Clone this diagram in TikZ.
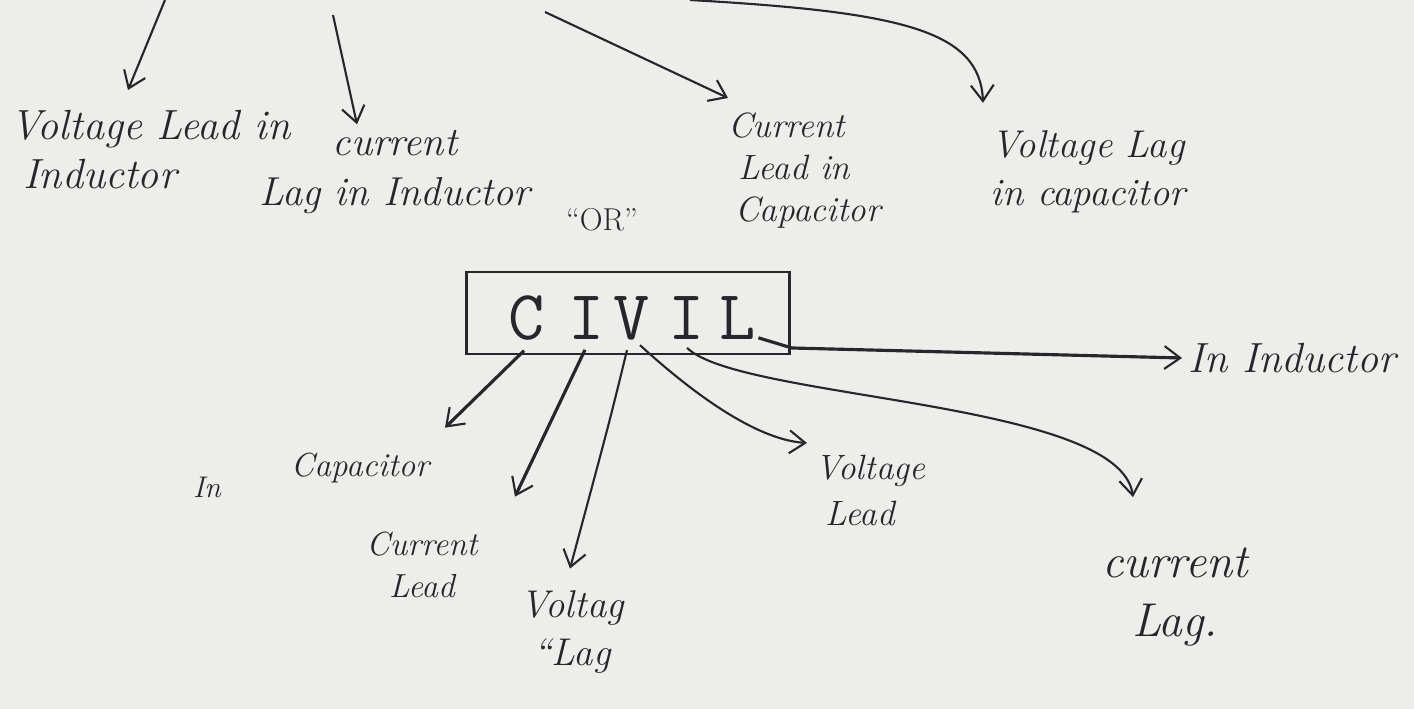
\documentclass[tikz,border=0pt]{standalone}
\usetikzlibrary{arrows.meta,calc}
\definecolor{paper}{RGB}{237,237,234}
\definecolor{ink}{RGB}{38,38,44}
\tikzset{
 txt/.style={text=ink,inner sep=0pt,align=center,font=\itshape\fontsize{22}{27}\selectfont},
 arr/.style={draw=ink,line width=1.2pt,-{Straight Barb[length=9pt,width=13pt,line width=1.2pt]}},
 boldarr/.style={arr,line width=1.8pt},
 boxst/.style={draw=ink,line width=1.3pt,minimum width=6.46cm,minimum height=1.64cm,inner sep=0pt},
 letter/.style={text=ink,inner sep=0pt,font=\ttfamily\fontsize{40}{40}\selectfont},
}
\begin{document}
\begin{tikzpicture}[x=0.02cm,y=-0.02cm]
\fill[paper] (0,0) rectangle (1414,709);
\useasboundingbox (0,0) rectangle (1414,709);

% top labels
\node[txt,align=left,anchor=north west,font=\itshape\fontsize{24}{28}\selectfont] (vl) at (10,110) {Voltage Lead in\\\hspace*{0.3em}Inductor};
\node[txt,font=\itshape\fontsize{23}{28}\selectfont] (cl) at (395,172) {current\\Lag in Inductor};
\node[txt,align=left,anchor=north west,font=\itshape\fontsize{20}{24}\selectfont] (cc) at (728,112) {Current\\\hspace*{0.3em}Lead in\\\hspace*{0.2em}Capacitor};
\node[txt] (vc) at (1088,172) {Voltage Lag\\in capacitor};
\node[txt,font=\fontsize{18}{20}\selectfont] (or) at (602,220) {``OR''};

% box
\node[boxst] (box) at (628,313) {};
\node[letter] (c1) at (527,318) {C};
\node[letter] (i1) at (587,318) {I};
\node[letter] (v)  at (632,318) {V};
\node[letter] (i2) at (687,318) {I};
\node[letter] (lL) at (738,318) {L};

% bottom labels
\node[txt,font=\itshape\fontsize{17}{20}\selectfont] (inw) at (207,487) {In};
\node[txt,font=\itshape\fontsize{19}{22}\selectfont] (capn) at (360,468) {Capacitor};
\node[txt,font=\itshape\fontsize{19}{24}\selectfont] (curlead) at (422,565) {Current\\Lead};
\node[txt] (voltlag) at (572,632) {Voltag\\``Lag};
\node[txt,align=left,anchor=north west,font=\itshape\fontsize{20}{26}\selectfont] (voltlead) at (815,455) {Voltage\\\hspace*{0.3em}Lead};
\node[txt,font=\itshape\fontsize{27}{34}\selectfont] (curlag) at (1175,597) {current\\Lag.};
\node[txt,font=\itshape\fontsize{24}{28}\selectfont,anchor=west] (inind) at (1188,358) {In Inductor};

% top arrows (coming from above the picture)
\coordinate (t1) at (165,0);
\coordinate (t2) at (333,15);
\coordinate (t3) at (545,12);
\coordinate (t4) at (690,0);
\draw[arr] (t1) -- ([shift={(118,-20)}]vl.north west);
\draw[arr] (t2) -- ([shift={(-38,-6)}]cl.north);
\draw[arr] (t3) -- ([shift={(0,-14)}]cc.north west);
\draw[arr] (t4) .. controls (900,12) and (980,30) .. ([shift={(-105,-28)}]vc.north);

% arrows from CIVIL
\coordinate (lk) at (792,348);
\draw[boldarr] ([shift={(-3,10)}]c1.south) -- ([shift={(85,-25)}]capn.north);
\draw[boldarr] ([shift={(-2,10)}]i1.south) -- ([shift={(93,-35)}]curlead.north);
\draw[arr] ([shift={(-5,10)}]v.south) .. controls (610,420) .. ([shift={(-2,-22)}]voltlag.north);
\draw[arr] ([shift={(8,5)}]v.south) .. controls (700,400) and (760,440) .. ([shift={(-8,-12)}]voltlead.north west);
\draw[arr] ([shift={(0,8)}]i2.south) .. controls (740,400) and (1120,400) .. ([shift={(-42,-50)}]curlag.north);
\draw[boldarr] ([shift={(2,-2)}]lL.south east) -- (lk) -- ([shift={(-6,0)}]inind.west);
\end{tikzpicture}
\end{document}
